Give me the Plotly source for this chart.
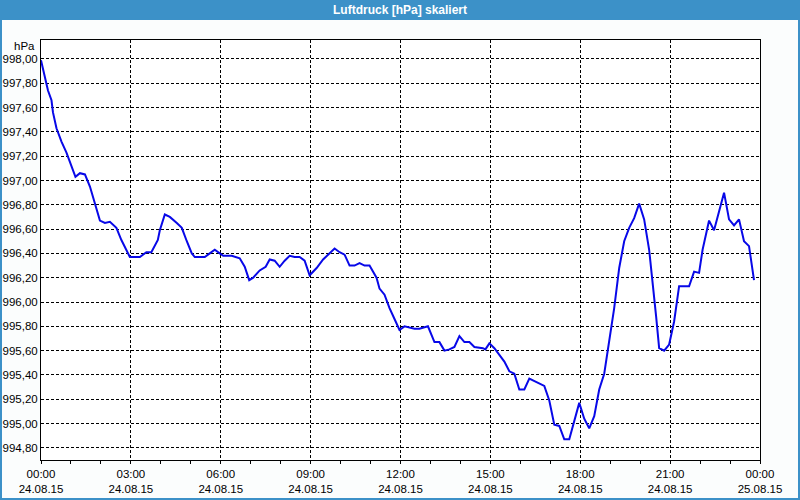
import plotly.graph_objects as go
import pandas as pd

# Minutes after 24.08.15 00:00 and pressure values (hPa)
minutes = [0, 9, 14, 21, 24, 31, 41, 51, 61, 69, 78, 88, 98, 108, 118, 128, 138, 151, 161, 178,
           198, 211, 221, 234, 238, 248, 258, 272, 282, 292, 302, 308, 328, 338, 348, 358, 365, 382, 392, 398,
           408, 417, 425, 438, 450, 458, 468, 478, 488, 498, 508, 518, 528, 538, 552, 565, 588, 598, 608, 618,
           628, 638, 648, 658, 672, 678, 688, 698, 708, 718, 728, 738, 748, 758, 775, 788, 798, 808, 818, 828,
           838, 848, 858, 868, 885, 890, 898, 908, 918, 928, 938, 948, 958, 968, 978, 988, 998, 1008, 1018, 1028,
           1038, 1048, 1058, 1068, 1078, 1088, 1098, 1108, 1118, 1128, 1138, 1148, 1158, 1168, 1178, 1188, 1198, 1208, 1218, 1225,
           1232, 1238, 1248, 1258, 1268, 1278, 1298, 1308, 1318, 1325, 1332, 1338, 1348, 1355, 1362, 1368, 1378, 1388, 1398, 1408,
           1418, 1425, 1428]
pressure = [997.99, 997.81, 997.74, 997.66, 997.56, 997.43, 997.32, 997.23, 997.11, 997.03, 997.06, 997.05, 996.95, 996.81, 996.67, 996.65, 996.66, 996.61, 996.51, 996.37,
            996.37, 996.41, 996.41, 996.51, 996.59, 996.72, 996.70, 996.65, 996.61, 996.50, 996.40, 996.37, 996.37, 996.40, 996.43, 996.40, 996.38, 996.38, 996.37, 996.36,
            996.29, 996.18, 996.20, 996.26, 996.29, 996.35, 996.34, 996.29, 996.34, 996.38, 996.37, 996.37, 996.34, 996.22, 996.28, 996.35, 996.44, 996.41, 996.39, 996.30,
            996.30, 996.32, 996.30, 996.30, 996.20, 996.11, 996.06, 995.95, 995.86, 995.77, 995.80, 995.79, 995.78, 995.78, 995.80, 995.67, 995.67, 995.60, 995.61, 995.63,
            995.72, 995.67, 995.67, 995.63, 995.62, 995.61, 995.66, 995.62, 995.56, 995.51, 995.43, 995.41, 995.28, 995.28, 995.37, 995.35, 995.33, 995.31, 995.19, 994.99,
            994.98, 994.87, 994.87, 995.02, 995.17, 995.04, 994.96, 995.06, 995.28, 995.41, 995.69, 995.95, 996.28, 996.50, 996.61, 996.69, 996.81, 996.68, 996.43, 996.18,
            995.88, 995.62, 995.60, 995.65, 995.84, 996.13, 996.13, 996.25, 996.24, 996.43, 996.57, 996.67, 996.59, 996.70, 996.81, 996.90, 996.68, 996.63, 996.68, 996.50,
            996.46, 996.29, 996.18]

tick_times = ["2015-08-24 00:00", "2015-08-24 03:00", "2015-08-24 06:00", "2015-08-24 09:00",
              "2015-08-24 12:00", "2015-08-24 15:00", "2015-08-24 18:00", "2015-08-24 21:00",
              "2015-08-25 00:00"]
tick_labels = ["00:00<br>24.08.15", "03:00<br>24.08.15", "06:00<br>24.08.15", "09:00<br>24.08.15",
               "12:00<br>24.08.15", "15:00<br>24.08.15", "18:00<br>24.08.15", "21:00<br>24.08.15",
               "00:00<br>25.08.15"]
y_ticks = [994.8, 995.0, 995.2, 995.4, 995.6, 995.8, 996.0, 996.2, 996.4, 996.6, 996.8, 997.0, 997.2,
           997.4, 997.6, 997.8, 998.0]

start = pd.Timestamp("2015-08-24 00:00")
times = [start + pd.Timedelta(minutes=m) for m in minutes]

W, H = 800, 500
ML, MR, MT, MB = 41, 40, 40, 40
PW, PH = W - ML - MR, H - MT - MB

FONT = "Liberation Sans"
FS = 11.5

fig = go.Figure()
fig.add_trace(go.Scatter(x=times, y=pressure, mode="lines",
                         line=dict(color="#0808e8", width=2), hoverinfo="skip"))

fig.update_layout(
    width=W, height=H,
    margin=dict(l=ML, r=MR, t=MT, b=MB, autoexpand=False),
    paper_bgcolor="#fbfdfd", plot_bgcolor="#ffffff",
    separators=", ",
    showlegend=False,
    font=dict(family=FONT, size=FS, color="#000000"),
    xaxis=dict(
        type="date", automargin=False,
        range=["2015-08-24 00:00", "2015-08-25 00:00"],
        tickmode="array", tickvals=tick_times, ticktext=tick_labels,
        showgrid=True, gridcolor="#000000", gridwidth=1, griddash="3px,2px",
        showline=True, linecolor="#000000", linewidth=1, mirror=True,
        ticks="outside", ticklen=3, tickcolor="#000000",
        minor=dict(dtick=3600000, ticks="outside", ticklen=3, tickcolor="#000000", showgrid=False),
        zeroline=False, tickfont=dict(family=FONT, size=FS),
    ),
    yaxis=dict(
        automargin=False,
        range=[994.70, 998.156],
        tickmode="array", tickvals=y_ticks, tickformat=".2f",
        showgrid=True, gridcolor="#000000", gridwidth=1, griddash="3px,2px",
        showline=True, linecolor="#000000", linewidth=1, mirror=True,
        ticks="", zeroline=False, tickfont=dict(family=FONT, size=FS),
    ),
)

# Title bar, window border
fig.add_shape(type="rect", xref="paper", yref="paper",
              x0=-ML / PW, x1=1 + MR / PW, y0=1 + (MT - 20) / PH, y1=1 + MT / PH,
              fillcolor="#3c91c8", line=dict(width=0), layer="below")
fig.add_shape(type="rect", xref="paper", yref="paper",
              x0=-(ML - 1) / PW, x1=1 + (MR - 1) / PW, y0=-(MB - 1) / PH, y1=1 + (MT - 1) / PH,
              fillcolor="rgba(0,0,0,0)", line=dict(color="#3c91c8", width=2), layer="below")
fig.add_annotation(text="<b>Luftdruck [hPa] skaliert</b>", xref="paper", yref="paper",
                   x=(400 - ML) / PW, y=1 + (MT - 10) / PH, xanchor="center", yanchor="middle",
                   showarrow=False, font=dict(family=FONT, size=12, color="#ffffff"))
fig.add_annotation(text="hPa", xref="paper", yref="paper",
                   x=(37 - ML) / PW, y=(H - MB - 46) / PH, xanchor="right", yanchor="middle",
                   showarrow=False, font=dict(family=FONT, size=FS, color="#000000"))

fig.write_html("out.html")
